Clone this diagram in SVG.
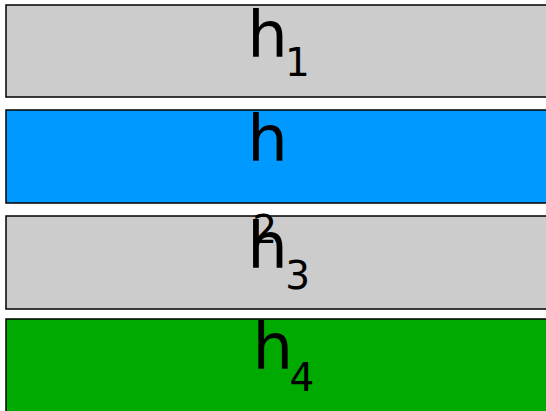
<svg xmlns="http://www.w3.org/2000/svg" width="546" height="411" viewBox="0 0 546 411">
  <style>
    .bar { stroke: #000; stroke-width: 1.5; }
    .gray { fill: #cccccc; }
    .blue { fill: #0099ff; }
    .green { fill: #00aa00; }
    .lbl { font-family: "DejaVu Sans", sans-serif; font-size: 64px; fill: #000; }
    .sub { font-size: 39px; }
  </style>
  <g id="layers">
    <g id="h1">
      <rect class="bar gray" x="6" y="5" width="570" height="92"/>
    </g>
    <g id="h2">
      <rect class="bar blue" x="6" y="110" width="570" height="93"/>
    </g>
    <g id="h3">
      <rect class="bar gray" x="6" y="216" width="570" height="93"/>
    </g>
    <g id="h4">
      <rect class="bar green" x="6" y="319" width="570" height="94"/>
    </g>
  </g>
  <g id="labels">
    <text class="lbl" x="247.2" y="57">h<tspan class="sub" x="285" y="76">1</tspan></text>
    <text class="lbl" x="247.2" y="161">h<tspan class="sub" x="252.2" y="243">2</tspan></text>
    <text class="lbl" x="247.2" y="268">h<tspan class="sub" x="285.2" y="289">3</tspan></text>
    <text class="lbl" x="252.5" y="369">h<tspan class="sub" x="289.6" y="391">4</tspan></text>
  </g>
  <g id="connectors"/>
</svg>
